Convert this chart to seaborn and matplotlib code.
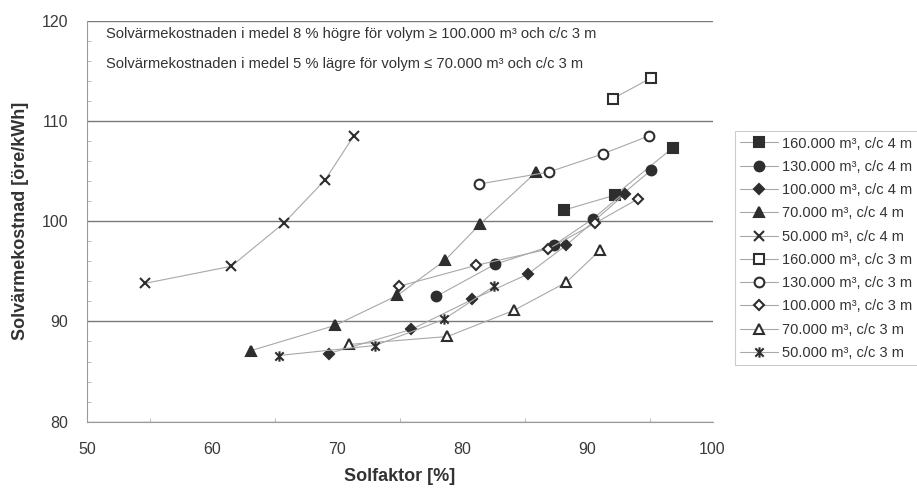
import matplotlib
matplotlib.use("Agg")
import matplotlib.pyplot as plt
import pandas as pd
import seaborn as sns
from matplotlib.path import Path
from matplotlib.ticker import MultipleLocator

# Solar fraction [%] and heat cost [öre/kWh] per storage volume and pipe spacing
labels = [
    "160.000 m³, c/c 4 m", "130.000 m³, c/c 4 m", "100.000 m³, c/c 4 m",
    "70.000 m³, c/c 4 m", "50.000 m³, c/c 4 m",
    "160.000 m³, c/c 3 m", "130.000 m³, c/c 3 m", "100.000 m³, c/c 3 m",
    "70.000 m³, c/c 3 m", "50.000 m³, c/c 3 m",
]

x_160_4 = [88.1, 92.2, 96.8]
y_160_4 = [101.1, 102.6, 107.3]
x_130_4 = [77.9, 82.6, 87.3, 90.4, 95.1]
y_130_4 = [92.5, 95.7, 97.6, 100.2, 105.1]
x_100_4 = [69.3, 75.9, 80.8, 85.2, 88.3, 93.0]
y_100_4 = [86.8, 89.2, 92.2, 94.7, 97.6, 102.7]
x_70_4 = [63.1, 69.8, 74.8, 78.6, 81.4, 85.9]
y_70_4 = [87.1, 89.6, 92.6, 96.1, 99.7, 104.9]
x_50_4 = [54.6, 61.5, 65.7, 69.0, 71.3]
y_50_4 = [93.8, 95.5, 99.8, 104.1, 108.5]

x_160_3 = [92.0, 95.1]
y_160_3 = [112.2, 114.3]
x_130_3 = [81.3, 86.9, 91.2, 94.9]
y_130_3 = [103.7, 104.9, 106.7, 108.5]
x_100_3 = [74.9, 81.1, 86.8, 90.6, 94.0]
y_100_3 = [93.5, 95.6, 97.2, 99.8, 102.2]
x_70_3 = [70.9, 78.8, 84.1, 88.3, 91.0]
y_70_3 = [87.7, 88.5, 91.1, 93.9, 97.1]
x_50_3 = [65.3, 73.0, 78.5, 82.5]
y_50_3 = [86.6, 87.6, 90.2, 93.5]

xs = [x_160_4, x_130_4, x_100_4, x_70_4, x_50_4,
      x_160_3, x_130_3, x_100_3, x_70_3, x_50_3]
ys = [y_160_4, y_130_4, y_100_4, y_70_4, y_50_4,
      y_160_3, y_130_3, y_100_3, y_70_3, y_50_3]

df = pd.concat(
    [pd.DataFrame({"serie": lab, "Solfaktor": x, "Kostnad": y})
     for lab, x, y in zip(labels, xs, ys)],
    ignore_index=True,
)

# six-spoke star: an X with a vertical bar through it
star = Path(
    [(0, -1), (0, 1), (-0.8, -0.8), (0.8, 0.8), (-0.8, 0.8), (0.8, -0.8)],
    [Path.MOVETO, Path.LINETO, Path.MOVETO, Path.LINETO, Path.MOVETO, Path.LINETO],
)

dark = "#2e2e2e"
styles = [
    dict(marker="s", ms=6.5, mfc=dark),
    dict(marker="o", ms=7, mfc=dark),
    dict(marker="D", ms=5.5, mfc=dark),
    dict(marker="^", ms=7.5, mfc=dark),
    dict(marker="x", ms=7, mfc=dark),
    dict(marker="s", ms=6.5, mfc="white"),
    dict(marker="o", ms=7, mfc="white"),
    dict(marker="D", ms=5.5, mfc="white"),
    dict(marker="^", ms=6.5, mfc="white"),
    dict(marker=star, ms=7.5, mfc=dark),
]

sns.set_style("white")
plt.rcParams["font.family"] = ["Liberation Sans", "DejaVu Sans"]

fig = plt.figure(figsize=(9.17, 4.90), dpi=100)
ax = fig.add_axes([0.0954, 0.1394, 0.7770 - 0.0954, 0.9578 - 0.1394])

for lab, st in zip(labels, styles):
    sns.lineplot(
        data=df[df["serie"] == lab], x="Solfaktor", y="Kostnad", ax=ax,
        estimator=None, sort=False, color="#a8a8a8", linewidth=0.8,
        marker=st["marker"], markersize=st["ms"], markerfacecolor=st["mfc"],
        markeredgecolor=dark, markeredgewidth=1.5, label=lab,
    )

ax.set_xlim(50, 100)
ax.set_ylim(80, 120)
ax.xaxis.set_major_locator(MultipleLocator(10))
ax.xaxis.set_minor_locator(MultipleLocator(5))
ax.yaxis.set_major_locator(MultipleLocator(10))
ax.yaxis.set_minor_locator(MultipleLocator(2))

ax.grid(axis="y", which="major", color="#7a7a7a", linewidth=1.0)
ax.grid(axis="x", visible=False)
for side in ("top", "right"):
    ax.spines[side].set_visible(False)
for side in ("left", "bottom"):
    ax.spines[side].set_color("#9a9a9a")
    ax.spines[side].set_linewidth(0.8)

ax.tick_params(axis="both", which="major", labelsize=11.5, labelcolor="#3a3a3a",
               color="#9a9a9a", width=0.8)
ax.tick_params(axis="x", which="major", direction="inout", length=7, pad=11)
ax.tick_params(axis="y", which="major", direction="out", length=4, pad=10)
ax.tick_params(axis="both", which="minor", direction="in", length=3,
               color="#b0b0b0", width=0.6)
ax.tick_params(axis="y", which="minor", left=True)
ax.tick_params(axis="x", which="minor", bottom=True)

ax.set_xlabel("Solfaktor [%]", fontsize=13, fontweight="bold", color="#333333",
              labelpad=8)
ax.set_ylabel("Solvärmekostnad [öre/kWh]", fontsize=13, fontweight="bold",
              color="#333333", labelpad=9)

ax.text(51.5, 118.7,
        "Solvärmekostnaden i medel 8 % högre för volym ≥ 100.000 m³ och c/c 3 m",
        fontsize=10.6, color="#333333", va="center")
ax.text(51.5, 115.7,
        "Solvärmekostnaden i medel 5 % lägre för volym ≤ 70.000 m³ och c/c 3 m",
        fontsize=10.6, color="#333333", va="center")

leg = ax.legend(
    loc="upper left", bbox_to_anchor=(735 / 917, 1 - 131.5 / 490),
    bbox_transform=fig.transFigure, borderaxespad=0, fancybox=False,
    frameon=True, fontsize=10.5, handlelength=2.6, handletextpad=0.3,
    labelspacing=0.635, borderpad=0.35, labelcolor="#333333",
)
leg.get_frame().set_edgecolor("#c0c0c0")
leg.get_frame().set_linewidth(0.8)

fig.savefig("out.png", dpi=100)
